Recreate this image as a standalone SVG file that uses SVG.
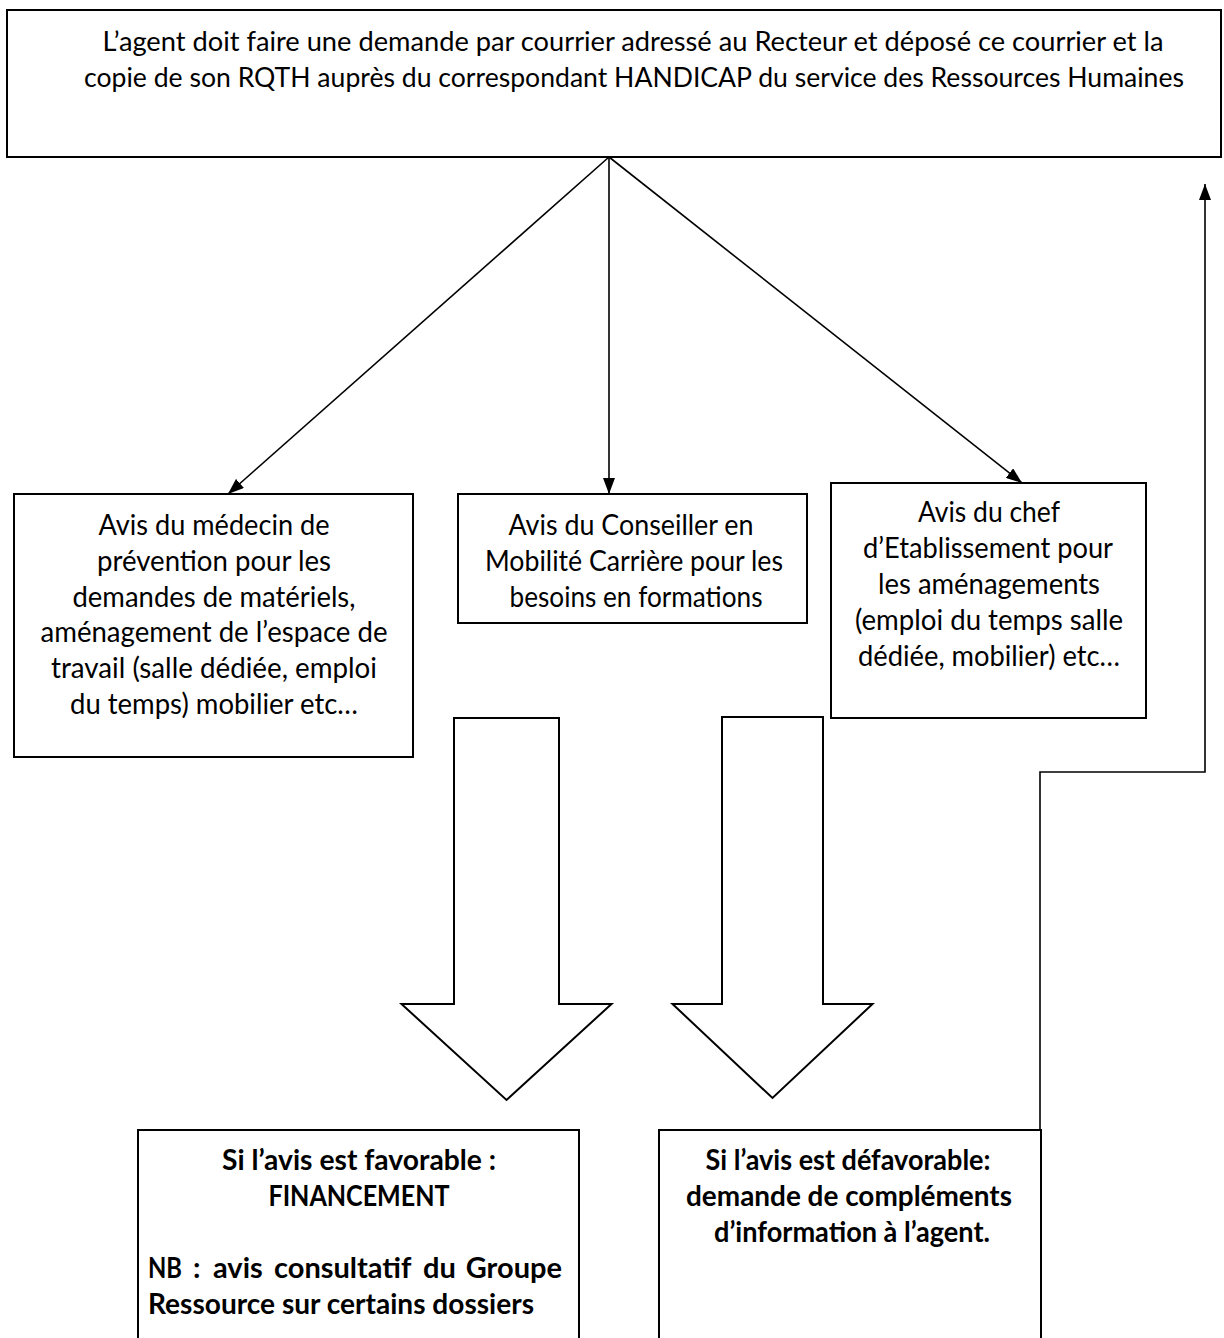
<svg xmlns="http://www.w3.org/2000/svg" width="1224" height="1338" viewBox="0 0 1224 1338">
  <style>
    .box { fill: #ffffff; stroke: #000000; stroke-width: 2; }
    .blk { fill: #ffffff; stroke: #000000; stroke-width: 2; stroke-linejoin: miter; }
    .t { font-family: Lato, "Open Sans", "Liberation Sans", sans-serif; font-size: 29px; fill: #000000; }
    .tt { font-size: 27px; }
    .c { text-anchor: middle; }
    .b { font-weight: 700; }
    .conn { fill: none; stroke: #000000; stroke-width: 1.6; }
  </style>
  <defs>
    <marker id="ah" viewBox="0 0 16 12" refX="16" refY="6" markerWidth="16" markerHeight="12" markerUnits="userSpaceOnUse" orient="auto">
      <path d="M0,0 L16,6 L0,12 z" fill="#000000"/>
    </marker>
  </defs>
  <rect width="1224" height="1338" fill="#ffffff"/>

  <g id="top">
    <rect class="box" x="7" y="10" width="1214" height="147"/>
    <text class="t tt c" x="633" y="51" textLength="1061" lengthAdjust="spacingAndGlyphs">L’agent doit faire une demande par courrier adressé au Recteur et déposé ce courrier et la</text>
    <text class="t tt c" x="634" y="87" textLength="1100" lengthAdjust="spacingAndGlyphs">copie de son RQTH auprès du correspondant HANDICAP du service des Ressources Humaines</text>
  </g>

  <g id="medecin">
    <rect class="box" x="14" y="494" width="399" height="263"/>
    <text class="t c" x="214" y="535" textLength="231" lengthAdjust="spacingAndGlyphs">Avis du médecin de</text>
    <text class="t c" x="214" y="571" textLength="234" lengthAdjust="spacingAndGlyphs">prévention pour les</text>
    <text class="t c" x="214" y="607" textLength="283" lengthAdjust="spacingAndGlyphs">demandes de matériels,</text>
    <text class="t c" x="214" y="642" textLength="347" lengthAdjust="spacingAndGlyphs">aménagement de l’espace de</text>
    <text class="t c" x="214" y="678" textLength="326" lengthAdjust="spacingAndGlyphs">travail (salle dédiée, emploi</text>
    <text class="t c" x="214" y="714" textLength="288" lengthAdjust="spacingAndGlyphs">du temps) mobilier etc…</text>
  </g>

  <g id="conseiller">
    <rect class="box" x="458" y="494" width="349" height="129"/>
    <text class="t c" x="631" y="535" textLength="245" lengthAdjust="spacingAndGlyphs">Avis du Conseiller en</text>
    <text class="t c" x="634" y="571" textLength="298" lengthAdjust="spacingAndGlyphs">Mobilité Carrière pour les</text>
    <text class="t c" x="636" y="607" textLength="253" lengthAdjust="spacingAndGlyphs">besoins en formations</text>
  </g>

  <g id="chef">
    <rect class="box" x="831" y="483" width="315" height="235"/>
    <text class="t c" x="989" y="522" textLength="142" lengthAdjust="spacingAndGlyphs">Avis du chef</text>
    <text class="t c" x="988" y="558" textLength="250" lengthAdjust="spacingAndGlyphs">d’Etablissement pour</text>
    <text class="t c" x="989" y="594" textLength="222" lengthAdjust="spacingAndGlyphs">les aménagements</text>
    <text class="t c" x="989" y="630" textLength="268" lengthAdjust="spacingAndGlyphs">(emploi du temps salle</text>
    <text class="t c" x="989" y="666" textLength="262" lengthAdjust="spacingAndGlyphs">dédiée, mobilier) etc…</text>
  </g>

  <g id="fleche-favorable">
    <polygon class="blk" points="454,718 559,718 559,1004 611.5,1004 506.5,1100 401.5,1004 454,1004"/>
  </g>

  <g id="fleche-defavorable">
    <polygon class="blk" points="722,717 823,717 823,1004 872.5,1004 772.5,1098 672.5,1004 722,1004"/>
  </g>

  <g id="favorable">
    <rect class="box" x="138" y="1130" width="441" height="230"/>
    <text class="t c b" x="359" y="1170" textLength="274" lengthAdjust="spacingAndGlyphs">Si l’avis est favorable :</text>
    <text class="t c b" x="359" y="1206" textLength="181" lengthAdjust="spacingAndGlyphs">FINANCEMENT</text>
    <text class="t b" x="148" y="1278" textLength="34" lengthAdjust="spacingAndGlyphs">NB</text>
    <text class="t b" x="193" y="1278">:</text>
    <text class="t b" x="213" y="1278">avis</text>
    <text class="t b" x="274" y="1278">consultatif</text>
    <text class="t b" x="423" y="1278">du</text>
    <text class="t b" x="562" y="1278" text-anchor="end">Groupe</text>
    <text class="t b" x="148" y="1314" textLength="386" lengthAdjust="spacingAndGlyphs">Ressource sur certains dossiers</text>
  </g>

  <g id="defavorable">
    <rect class="box" x="659" y="1130" width="382" height="230"/>
    <text class="t c b" x="848" y="1170" textLength="285" lengthAdjust="spacingAndGlyphs">Si l’avis est défavorable:</text>
    <text class="t c b" x="849" y="1206" textLength="326" lengthAdjust="spacingAndGlyphs">demande de compléments</text>
    <text class="t c b" x="852" y="1242" textLength="276" lengthAdjust="spacingAndGlyphs">d’information à l’agent.</text>
  </g>

  <g id="connectors">
    <line class="conn" x1="609" y1="157" x2="228" y2="494" marker-end="url(#ah)"/>
    <line class="conn" x1="609" y1="157" x2="609" y2="494" marker-end="url(#ah)"/>
    <line class="conn" x1="609" y1="157" x2="1022" y2="483" marker-end="url(#ah)"/>
    <polyline class="conn" points="1040,1130 1040,772 1205,772 1205,184" marker-end="url(#ah)"/>
  </g>
</svg>
